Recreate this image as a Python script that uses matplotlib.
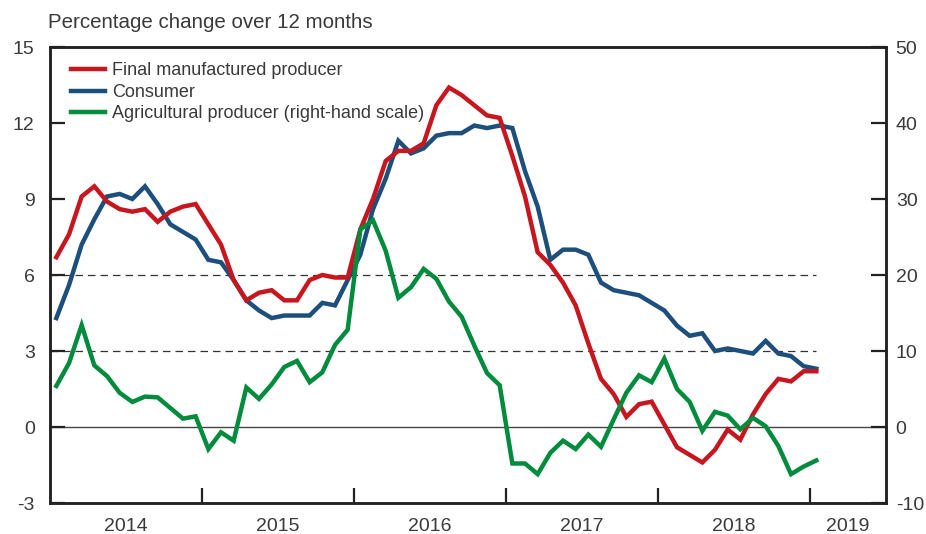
import numpy as np
import matplotlib.pyplot as plt

plt.rcParams['font.family'] = ['Liberation Sans', 'DejaVu Sans']
plt.rcParams['axes.unicode_minus'] = False

# monthly data, Jan 2014 - Jan 2019
years = ['2014', '2015', '2016', '2017', '2018', '2019']

final_manuf = [6.7, 7.6, 9.1, 9.5, 8.9, 8.6, 8.5, 8.6, 8.1, 8.5, 8.7, 8.8,
               8.0, 7.2, 5.8, 5.0, 5.3, 5.4, 5.0, 5.0, 5.8, 6.0, 5.9, 5.9,
               7.8, 9.0, 10.5, 10.9, 10.9, 11.2, 12.7, 13.4, 13.1, 12.7, 12.3, 12.2,
               10.7, 9.1, 6.9, 6.4, 5.7, 4.8, 3.3, 1.9, 1.3, 0.4, 0.9, 1.0,
               0.1, -0.8, -1.1, -1.4, -0.9, -0.1, -0.5, 0.5, 1.3, 1.9, 1.8, 2.2,
               2.2]

consumer = [4.3, 5.6, 7.2, 8.2, 9.1, 9.2, 9.0, 9.5, 8.8, 8.0, 7.7, 7.4,
            6.6, 6.5, 5.8, 5.0, 4.6, 4.3, 4.4, 4.4, 4.4, 4.9, 4.8, 5.8,
            6.8, 8.6, 9.8, 11.3, 10.8, 11.0, 11.5, 11.6, 11.6, 11.9, 11.8, 11.9,
            11.8, 10.1, 8.7, 6.6, 7.0, 7.0, 6.8, 5.7, 5.4, 5.3, 5.2, 4.9,
            4.6, 4.0, 3.6, 3.7, 3.0, 3.1, 3.0, 2.9, 3.4, 2.9, 2.8, 2.4,
            2.3]

agri = [5.4, 8.4, 13.4, 8.1, 6.7, 4.5, 3.3, 4.0, 3.9, 2.5, 1.1, 1.4,
        -2.9, -0.7, -1.8, 5.2, 3.7, 5.6, 7.9, 8.7, 5.9, 7.2, 10.8, 12.8,
        26.0, 27.2, 23.2, 17.0, 18.4, 20.8, 19.5, 16.5, 14.5, 10.7, 7.1, 5.5,
        -4.8, -4.8, -6.2, -3.4, -1.8, -2.9, -1.0, -2.6, 1.0, 4.5, 6.8, 5.9,
        9.0, 5.0, 3.3, -0.5, 2.0, 1.5, -0.3, 1.2, 0.1, -2.5, -6.2, -5.2,
        -4.4]

red = '#c8161e'
blue = '#1d4f7c'
green = '#008c3c'
txt = '#3a3a3a'

x = np.arange(len(final_manuf))

fig = plt.figure(figsize=(9.26, 5.34), dpi=100)
ax = fig.add_axes([50/926, 31/534, 836/926, 456/534])
ax2 = ax.twinx()

ax.set_xlim(-0.5, 65.5)
ax.set_ylim(-3, 15)
ax2.set_ylim(-10, 50)

ax.axhline(0, color='#444444', lw=1.0, zorder=1)
for lvl in [3, 6]:
    ax.hlines(lvl, -0.5, x[-1], colors='#333333', lw=0.9,
              linestyles=(0, (6, 4)), zorder=1)

l1, = ax.plot(x, final_manuf, color=red, lw=3.2, solid_joinstyle='miter',
              label='Final manufactured producer', zorder=3)
l2, = ax.plot(x, consumer, color=blue, lw=3.2, solid_joinstyle='miter',
              label='Consumer', zorder=2)
l3, = ax2.plot(x, agri, color=green, lw=3.2, solid_joinstyle='miter',
               label='Agricultural producer (right-hand scale)')

# year separators and labels
bounds = np.arange(11.5, 60, 12)
centers = [5.5, 17.5, 29.5, 41.5, 53.5, 62.5]
ax.set_xticks(bounds)
ax.set_xticklabels([])
ax.set_xticks(centers, minor=True)
ax.set_xticklabels(years, minor=True)
ax.tick_params(axis='x', which='major', direction='in', length=11,
               width=1.6, color='#222222')
ax.tick_params(axis='x', which='minor', length=0, pad=11,
               labelsize=14, labelcolor=txt)

ax.set_yticks(np.arange(-3, 16, 3))
ax.tick_params(axis='y', direction='in', length=11, width=1.6,
               color='#222222', pad=11, labelsize=14, labelcolor=txt)
ax2.set_yticks(np.arange(-10, 51, 10))
ax2.tick_params(axis='y', direction='in', length=11, width=1.6,
                color='#222222', pad=7, labelsize=14, labelcolor=txt)

for a in (ax, ax2):
    for s in a.spines.values():
        s.set_linewidth(1.8)
        s.set_color('#222222')

ax.legend(handles=[l1, l2, l3], loc='upper left', bbox_to_anchor=(0.012, 0.99),
          frameon=False, fontsize=13, handlelength=1.9, handletextpad=0.4,
          labelspacing=0.25, borderaxespad=0.2, labelcolor=txt)

fig.text(48/926, 1 - 22/534, 'Percentage change over 12 months',
         fontsize=14.8, color=txt, va='center', ha='left')

fig.savefig('out.png', dpi=100)
